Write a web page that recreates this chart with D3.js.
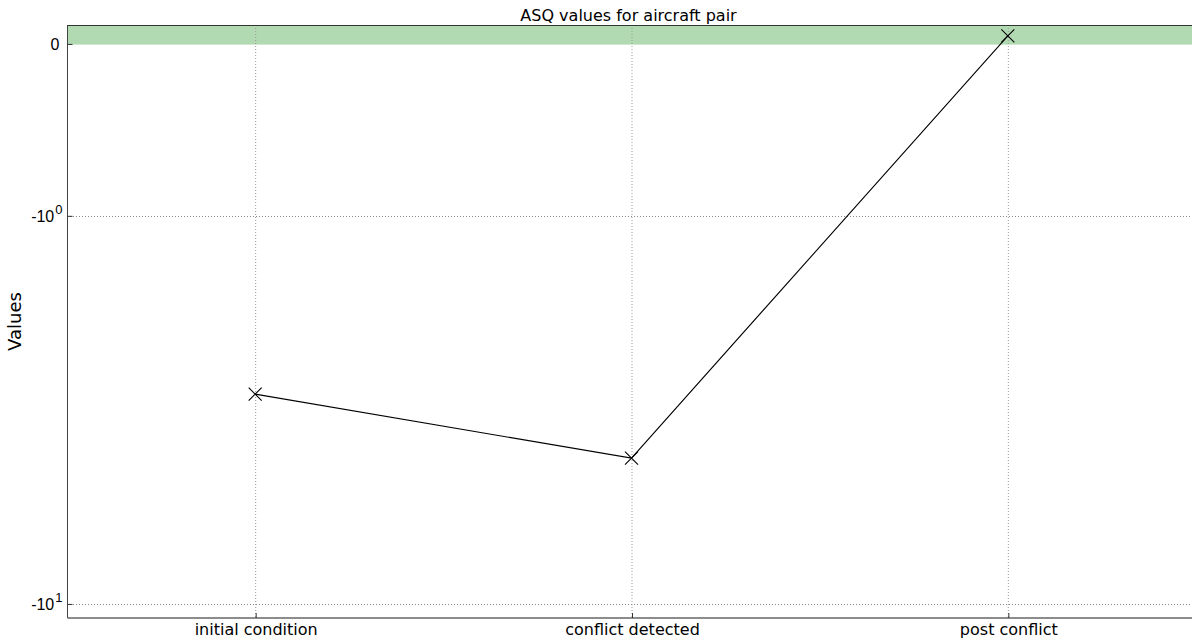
<!DOCTYPE html>
<html><head><meta charset="utf-8">
<script src="https://cdn.jsdelivr.net/npm/d3@7"></script>
<style>
body{margin:0;background:#fff;}
svg{display:block;font-family:"DejaVu Sans",sans-serif;}
</style></head>
<body><svg id="c" width="1192" height="639"></svg>
<script>
const categories = ["initial condition", "conflict detected", "post conflict"];
const values = [-2.88, -4.21, 0.047];
const yTickValues = [0, -1, -10];
const yTickBase = ["0", "-10", "-10"];
const yTickExp = ["", "0", "1"];
const title = "ASQ values for aircraft pair";
const yLabel = "Values";
const yLimits = [-10.87, 0.11];

const svg = d3.select("#c");
const L = 67, R = 1196, T = 25, B = 618;
const linscale = 0.443;
// matplotlib-like symlog transform (linthresh = 1)
const symlog = v => {
  const a = Math.abs(v), s = v < 0 ? -1 : 1;
  return s * (a <= 1 ? a * linscale : linscale + Math.log10(a));
};
const yLin = d3.scaleLinear().domain([symlog(yLimits[1]), symlog(yLimits[0])]).range([T, B]);
const y = v => yLin(symlog(v));
const x = d3.scaleLinear().domain([-0.5, categories.length - 0.5]).range([L, R]);

// green band from 0 up
svg.append("rect").attr("x", L).attr("y", T).attr("width", R - L).attr("height", y(0) - T + 0.7)
  .attr("fill", "rgb(178,218,178)");

// grid
const g = svg.append("g");
categories.forEach((c, i) => {
  g.append("line").attr("x1", x(i) + 0.5).attr("x2", x(i) + 0.5).attr("y1", T).attr("y2", B)
    .attr("stroke", "#999").attr("stroke-dasharray", "1,2");
});
yTickValues.forEach(v => {
  if (v === 0) return;
  g.append("line").attr("x1", L).attr("x2", R).attr("y1", Math.round(y(v)) + 0.5).attr("y2", Math.round(y(v)) + 0.5)
    .attr("stroke", "#888").attr("stroke-dasharray", "1,2");
});

// y axis
const yAxis = d3.axisLeft(yLin).tickValues(yTickValues.map(symlog)).tickSize(-5).tickPadding(10).tickFormat("");
const ya = svg.append("g").attr("transform", `translate(${L + 0.5},0)`).call(yAxis);
ya.select(".domain").attr("stroke", "#444").attr("d", `M0,${T}V${B}`);
ya.selectAll(".tick line").attr("stroke", "#333");
ya.selectAll(".tick").each(function (d, i) {
  const t = d3.select(this).append("text").attr("x", -5).attr("dy", "0.35em")
    .attr("text-anchor", "end").attr("fill", "#000").attr("font-size", 16);
  if (yTickExp[i]) {
    t.append("tspan").text(yTickBase[i]);
    t.append("tspan").text(yTickExp[i]).attr("font-size", 13).attr("dx", 1).attr("dy", "-0.6em");
  } else t.attr("x", -8).text(yTickBase[i]);
});

// x axis
const xAxis = d3.axisBottom(x).tickValues(d3.range(categories.length)).tickSize(-5).tickPadding(6)
  .tickFormat((d) => categories[d]);
const xa = svg.append("g").attr("transform", `translate(0.5,${B})`).call(xAxis);
xa.select(".domain").attr("stroke", "#666").attr("stroke-width", 1.5).attr("d", `M${L},0H${R}`);
xa.selectAll(".tick line").attr("stroke", "#333");
xa.selectAll(".tick text").attr("font-size", 16).attr("fill", "#000").attr("font-family", "DejaVu Sans");

// top spine
svg.append("line").attr("x1", L).attr("x2", R).attr("y1", T + 0.5).attr("y2", T + 0.5).attr("stroke", "#333");

// line
const pts = values.map((v, i) => [x(i), y(v)]);
svg.append("path").attr("d", d3.line()(pts)).attr("fill", "none").attr("stroke", "#000").attr("stroke-width", 1.1);
pts.forEach(p => {
  const s = 6.5;
  svg.append("path").attr("d", `M${p[0]-s},${p[1]-s}L${p[0]+s},${p[1]+s}M${p[0]-s},${p[1]+s}L${p[0]+s},${p[1]-s}`)
    .attr("stroke", "#000").attr("stroke-width", 1.1);
});

// title & label
svg.append("text").attr("x", (L + R) / 2 - 3).attr("y", 21).attr("text-anchor", "middle")
  .attr("font-size", 16).text(title);
svg.append("text").attr("transform", `translate(21,${(T + B) / 2}) rotate(-90)`).attr("text-anchor", "middle")
  .attr("font-size", 18).text(yLabel);
</script></body></html>
